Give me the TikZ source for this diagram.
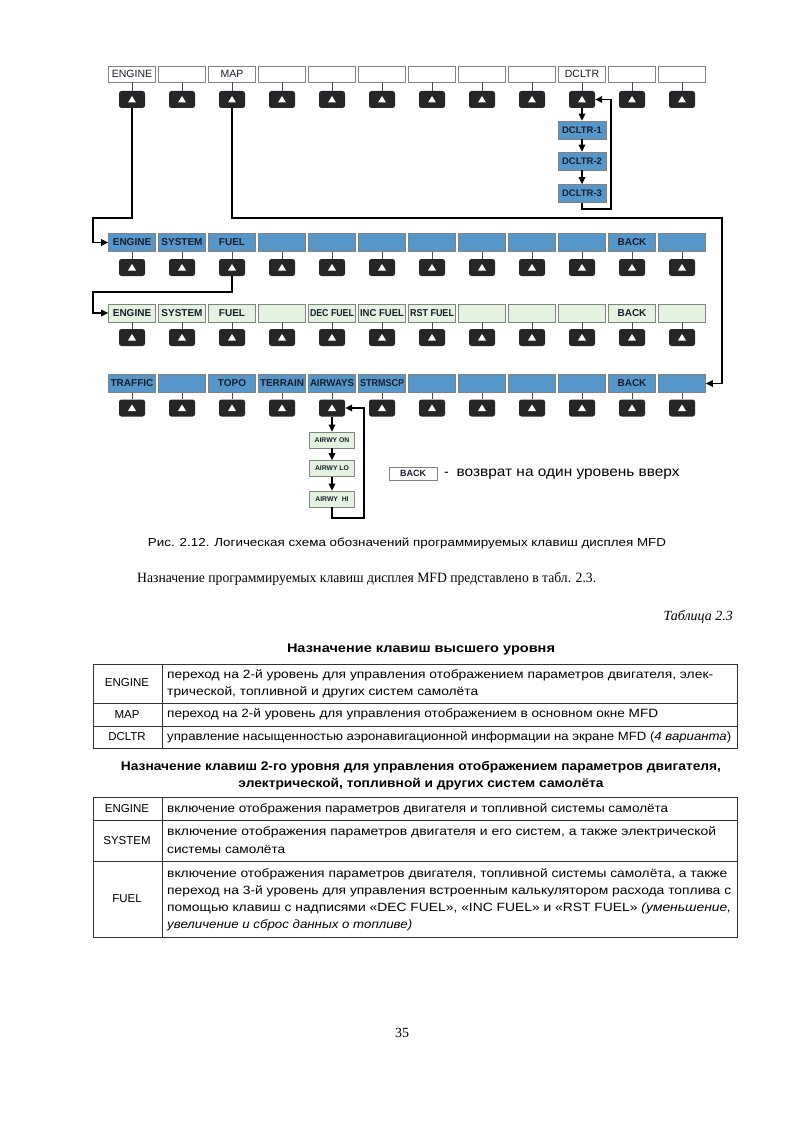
\documentclass[tikz,border=0pt]{standalone}
\usepackage{fontspec}
\setmainfont{Liberation Serif}
\setsansfont{Liberation Sans}
\usepackage{graphicx}
\usetikzlibrary{arrows.meta}

\definecolor{keyblue}{RGB}{86,150,200}
\definecolor{keygreen}{RGB}{228,242,224}
\definecolor{btncol}{RGB}{38,38,40}
\definecolor{edgecol}{RGB}{130,130,130}
\definecolor{labcol}{RGB}{25,30,45}

\newsavebox\lblbox
\newcommand\fitl[1]{\sbox\lblbox{#1}\ifdim\wd\lblbox>44pt\resizebox{44pt}{\height}{\usebox\lblbox}\else\usebox\lblbox\fi}
\newcommand\fitw[2]{\resizebox{#1pt}{\height}{#2}}

\tikzset{
  keyw/.style={draw=edgecol, fill=white, minimum width=47pt, minimum height=16pt, inner sep=0pt,
    line width=0.6pt, text=labcol, font=\sffamily\fontsize{10.5}{12}\selectfont},
  keyb/.style={keyw, fill=keyblue, minimum height=18pt, font=\sffamily\bfseries\fontsize{10}{12}\selectfont},
  keyg/.style={keyb, fill=keygreen},
  subb/.style={keyb, minimum width=48pt, font=\sffamily\bfseries\fontsize{9.5}{11}\selectfont},
  subg/.style={keyw, fill=keygreen, minimum width=45pt, minimum height=16pt, font=\sffamily\bfseries\fontsize{6.8}{8}\selectfont},
  btnbox/.style={fill=btncol, rounded corners=2.5pt, minimum width=26pt, minimum height=17pt, inner sep=0pt},
  stem/.style={draw=black!70, line width=0.6pt},
  flow/.style={draw=black, line width=1.6pt, -{Triangle[length=7pt,width=6.5pt]}},
  celltxt/.style={anchor=west, inner sep=0pt, font=\sffamily\fontsize{12}{14}\selectfont},
  celllab/.style={inner sep=0pt, font=\sffamily\fontsize{11.5}{13}\selectfont},
  ttl/.style={inner sep=0pt, font=\sffamily\bfseries\fontsize{12.5}{14}\selectfont},
  tbl/.style={draw=black!80, line width=0.8pt},
}

\newcommand\keyrow[5]{%
  \foreach \lab [count=\i from 0] in {#5} {
    \pgfmathsetmacro\xx{132+50*\i}
    \node[#4] (r#1k\i) at (\xx,#2) {\fitl{\lab}};
    \node[btnbox] (r#1b\i) at (\xx,#3) {};
    \draw[stem] (r#1k\i.south) -- (r#1b\i.north);
    \fill[white] ([shift={(-4,3)}]r#1b\i.center) -- ([shift={(4,3)}]r#1b\i.center)
       -- ([shift={(0,-3.5)}]r#1b\i.center) -- cycle;
  }}

\begin{document}
\begin{tikzpicture}[x=1pt,y=-1pt]
\useasboundingbox[fill=white] (0,0) rectangle (796,1123);

% ---------- key rows ----------
\keyrow{1}{74}{99.5}{keyw}{ENGINE,{},MAP,{},{},{},{},{},{},DCLTR,{},{}}
\keyrow{2}{242.5}{267.5}{keyb}{ENGINE,SYSTEM,FUEL,{},{},{},{},{},{},{},BACK,{}}
\keyrow{3}{313}{337.5}{keyg}{ENGINE,SYSTEM,FUEL,{},DEC FUEL,INC FUEL,RST FUEL,{},{},{},BACK,{}}
\keyrow{4}{383.5}{408}{keyb}{TRAFFIC,{},TOPO,TERRAIN,AIRWAYS,STRMSCP,{},{},{},{},BACK,{}}

% ---------- DCLTR sub-keys ----------
\node[subb] (d1) at (582,130) {DCLTR-1};
\node[subb] (d2) at (582,161) {DCLTR-2};
\node[subb] (d3) at (582,193.5) {DCLTR-3};
\draw[flow] (r1b9.south) -- (d1.north);
\draw[flow] (d1.south) -- (d2.north);
\draw[flow] (d2.south) -- (d3.north);
\coordinate (dret) at (611,209);
\draw[flow] (d3.south) |- (dret) |- (r1b9.east);

% ---------- AIRWY sub-keys ----------
\node[subg] (a1) at (332,440) {AIRWY ON};
\node[subg] (a2) at (332,468.5) {AIRWY LO};
\node[subg] (a3) at (332,499) {AIRWY\ \ HI};
\draw[flow] (r4b4.south) -- (a1.north);
\draw[flow] (a1.south) -- (a2.north);
\draw[flow] (a2.south) -- (a3.north);
\coordinate (aret) at (364,518);
\draw[flow] (a3.south) |- (aret) |- (r4b4.east);

% ---------- level connectors ----------
\coordinate (eng) at (93,218);
\draw[flow] (r1b0.south) |- (eng) |- (r2k0.west);
\coordinate (map) at (722,218);
\draw[flow] (r1b2.south) |- (map) |- (r4k11.east);
\coordinate (fuel) at (93,292);
\draw[flow] (r2b2.south) |- (fuel) |- (r3k0.west);

% ---------- legend ----------
\node[keyw, minimum width=48pt, minimum height=13pt, font=\sffamily\bfseries\fontsize{9}{10}\selectfont] (lgb) at (413,473.5) {BACK};
\node[anchor=west, inner sep=0pt, font=\sffamily\fontsize{14}{16}\selectfont] (lgt) at (444,474) {-\ \ \fitw{223}{возврат на один уровень вверх}};

% ---------- caption and text ----------
\node[inner sep=0pt, font=\sffamily\fontsize{11.6}{13}\selectfont] (cap) at (407,543) {\fitw{518}{Рис. 2.12. Логическая схема обозначений программируемых клавиш дисплея MFD}};
\node[anchor=west, inner sep=0pt, font=\fontsize{14.2}{16}\selectfont] (body) at (137,579) {\fitw{459}{Назначение программируемых клавиш дисплея MFD представлено в табл. 2.3.}};
\node[anchor=east, inner sep=0pt, font=\itshape\fontsize{14}{16}\selectfont] (tabn) at (733,617) {Таблица 2.3};

% ---------- table 1 ----------
\node[ttl] (t1t) at (421,649) {\fitw{268}{Назначение клавиш высшего уровня}};
\draw[tbl] (93,664) rectangle (737,748);
\draw[tbl] (93,703) -- (737,703);
\draw[tbl] (93,726) -- (737,726);
\draw[tbl] (162,664) -- (162,748);
\node[celllab] (t1l1) at (127,683) {ENGINE};
\node[celllab] (t1l2) at (127,714.5) {MAP};
\node[celllab] (t1l3) at (127,737) {DCLTR};
\node[celltxt] (t1a) at (167,675) {\fitw{546}{переход на 2-й уровень для управления отображением параметров двигателя, элек-}};
\node[celltxt] (t1b) at (167,692) {\fitw{311}{трической, топливной и других систем самолёта}};
\node[celltxt] (t1c) at (167,714.5) {\fitw{491}{переход на 2-й уровень для управления отображением в основном окне MFD}};
\node[celltxt] (t1d) at (167,737) {\fitw{564}{управление насыщенностью аэронавигационной информации на экране MFD (\textit{4 варианта})}};

% ---------- table 2 ----------
\node[ttl] (t2t1) at (421,767) {\fitw{600}{Назначение клавиш 2-го уровня для управления отображением параметров двигателя,}};
\node[ttl] (t2t2) at (421,784) {\fitw{365}{электрической, топливной и других систем самолёта}};
\draw[tbl] (93,797) rectangle (737,937);
\draw[tbl] (93,820) -- (737,820);
\draw[tbl] (93,861) -- (737,861);
\draw[tbl] (162,797) -- (162,937);
\node[celllab] (t2l1) at (127,808.5) {ENGINE};
\node[celllab] (t2l2) at (127,840.5) {SYSTEM};
\node[celllab] (t2l3) at (127,899) {FUEL};
\node[celltxt] (t2a) at (167,809) {\fitw{501}{включение отображения параметров двигателя и топливной системы самолёта}};
\node[celltxt] (t2b) at (167,832) {\fitw{549}{включение отображения параметров двигателя и его систем, а также электрической}};
\node[celltxt] (t2c) at (167,849) {\fitw{118}{системы самолёта}};
\node[celltxt] (t2d) at (167,874) {\fitw{560}{включение отображения параметров двигателя, топливной системы самолёта, а также}};
\node[celltxt] (t2e) at (167,891) {\fitw{564}{переход на 3-й уровень для управления встроенным калькулятором расхода топлива с}};
\node[celltxt] (t2f) at (167,908) {\fitw{564}{помощью клавиш с надписями «DEC FUEL», «INC FUEL» и «RST FUEL» \textit{(уменьшение,}}};
\node[celltxt] (t2g) at (167,925) {\fitw{245}{\textit{увеличение и сброс данных о топливе)}}};

% ---------- page number ----------
\node[inner sep=0pt, font=\fontsize{14}{16}\selectfont] (pg) at (402,1033) {35};
\end{tikzpicture}
\end{document}
